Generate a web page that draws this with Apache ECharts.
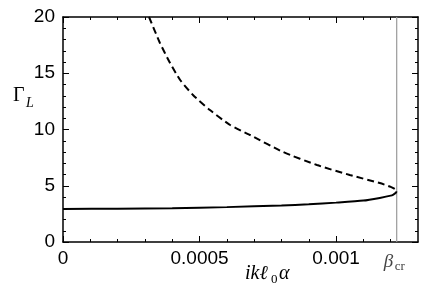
<!DOCTYPE html>
<html>
<head>
<meta charset="utf-8">
<script src="https://cdn.jsdelivr.net/npm/echarts@6/dist/echarts.min.js"></script>
<style>html,body{margin:0;padding:0;background:#fff}#c{width:436px;height:298px}</style>
</head>
<body>
<div id="c"></div>
<script>
const betaCr = 0.001222;
const xMajorTicks = [0, 0.0005, 0.001];
const xMinorTicks = [0.0001,0.0002,0.0003,0.0004,0.0006,0.0007,0.0008,0.0009,0.0011,0.0012];
const xTickLabels = ['0', '0.0005', '0.001'];
const lowerX = [0, 0.0002, 0.0004, 0.0006, 0.0008, 0.0009, 0.001, 0.0011, 0.00116, 0.0012, 0.00121, 0.001218, 0.001222];
const lowerY = [2.93, 2.96, 3.0, 3.1, 3.25, 3.35, 3.5, 3.68, 3.92, 4.12, 4.22, 4.35, 4.5];
const upperX = [0.000315, 0.000355, 0.000392, 0.000429, 0.000476, 0.000538, 0.000612, 0.000685, 0.000806, 0.00093, 0.00105, 0.00116, 0.0012, 0.001216, 0.001222];
const upperY = [20, 17.69, 15.91, 14.4, 13.07, 11.73, 10.4, 9.51, 8.0, 6.84, 5.96, 5.24, 4.9, 4.7, 4.5];
const critX = [betaCr, betaCr];
const critY = [0, 20];

const zip = (a, b) => a.map((v, i) => [v, b[i]]);
const chart = echarts.init(document.getElementById('c'), null, {renderer: 'canvas'});
const labFont = {fontFamily: 'Liberation Sans, Arial, sans-serif', fontSize: 19, color: '#000'};
function xAxisDef(pos, ticks, len, showLine, showLabel) {
  return {
    type: 'value', min: 0, max: 0.0013, position: pos,
    axisLine: {show: showLine, onZero: false, lineStyle: {color: '#000', width: 1.5}},
    axisTick: {show: true, inside: true, length: len, customValues: ticks, lineStyle: {color: '#000', width: 1}},
    axisLabel: showLabel ? Object.assign({show: true, margin: 7, customValues: xMajorTicks,
      formatter: v => { const i = xMajorTicks.findIndex(t => Math.abs(t - v) < 1e-9); return i >= 0 ? xTickLabels[i] : ''; }}, labFont) : {show: false},
    splitLine: {show: false}
  };
}
function yAxisDef(pos, showLabel) {
  return {
    type: 'value', min: 0, max: 20, interval: 5, position: pos,
    axisLine: {show: true, onZero: false, lineStyle: {color: '#000', width: 1.5}},
    axisTick: {show: true, inside: true, length: 6, lineStyle: {color: '#000', width: 1}},
    minorTick: {show: true, splitNumber: 5, length: 3, lineStyle: {color: '#000', width: 1}},
    axisLabel: showLabel ? Object.assign({show: true, margin: 8}, labFont) : {show: false},
    splitLine: {show: false}
  };
}
chart.setOption({
  animation: false,
  grid: {left: 63, right: 18, top: 17, bottom: 56, containLabel: false},
  xAxis: [
    xAxisDef('bottom', xMajorTicks, 6, true, true),
    xAxisDef('bottom', xMinorTicks, 3, false, false),
    xAxisDef('top', xMajorTicks, 6, true, false),
    xAxisDef('top', xMinorTicks, 3, false, false)
  ],
  yAxis: [yAxisDef('left', true), yAxisDef('right', false)],
  series: [
    {type: 'line', xAxisIndex: 0, yAxisIndex: 0, data: zip(critX, critY), showSymbol: false, silent: true,
     lineStyle: {color: '#999', width: 1.2}, z: 1},
    {type: 'line', xAxisIndex: 0, yAxisIndex: 0, data: zip(lowerX, lowerY), showSymbol: false, smooth: 0.2,
     lineStyle: {color: '#000', width: 2}, clip: true, z: 3},
    {type: 'line', xAxisIndex: 0, yAxisIndex: 0, data: zip(upperX, upperY), showSymbol: false, smooth: 0.2,
     lineStyle: {color: '#000', width: 2, type: [7, 4]}, clip: true, z: 3}
  ]
});
const bx = chart.convertToPixel({xAxisIndex: 0}, betaCr);
const serif = 'Liberation Serif, DejaVu Serif, serif';
chart.setOption({
  graphic: [
    {type: 'text', left: 13, top: 86, style: {text: 'Γ', font: '20px ' + serif, fill: '#000'}},
    {type: 'text', left: 26, top: 96, style: {text: 'L', font: 'italic 14px ' + serif, fill: '#000'}},
    {type: 'text', left: bx - 13, top: 252, style: {text: 'β', font: 'italic 19px ' + serif, fill: '#444'}},
    {type: 'text', left: bx - 2, top: 260, style: {text: 'cr', font: '13px ' + serif, fill: '#444'}},
    {type: 'text', left: 245, top: 264, style: {text: 'ikℓ', font: 'italic 20px ' + serif, fill: '#000'}},
    {type: 'text', left: 271, top: 273, style: {text: '0', font: '13px ' + serif, fill: '#000'}},
    {type: 'text', left: 279, top: 264, style: {text: 'α', font: 'italic 20px ' + serif, fill: '#000'}}
  ]
});
</script>
</body>
</html>
